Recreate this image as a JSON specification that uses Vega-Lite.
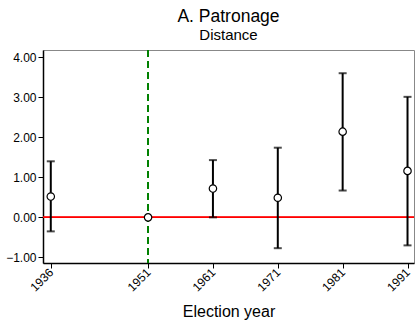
{
  "$schema": "https://vega.github.io/schema/vega-lite/v6.json",
  "autosize": "none",
  "padding": {"left": 43, "top": 50, "right": 1, "bottom": 57},
  "width": 371,
  "height": 213,
  "background": "white",
  "config": {
    "font": "Liberation Sans",
    "view": {"stroke": "#888888", "strokeWidth": 1},
    "axis": {"grid": false, "domainColor": "black", "tickColor": "black", "labelColor": "black", "titleColor": "black", "labelFontSize": 12, "titleFontSize": 16, "titleFontWeight": "normal", "domainWidth": 1.5, "tickSize": 5, "labelPadding": 2}
  },
  "title": {"text": "A. Patronage", "subtitle": "Distance", "fontSize": 17.5, "fontWeight": "normal", "subtitleFontSize": 15, "subtitleColor": "black", "subtitleFont": "Liberation Sans", "color": "black", "offset": 6, "subtitlePadding": 3, "anchor": "middle"},
  "data": {"values": [
    {"year": 1936, "est": 0.52, "lo": -0.35, "hi": 1.40},
    {"year": 1951, "est": 0.0, "lo": null, "hi": null},
    {"year": 1961, "est": 0.72, "lo": 0.0, "hi": 1.43},
    {"year": 1971, "est": 0.49, "lo": -0.77, "hi": 1.74},
    {"year": 1981, "est": 2.14, "lo": 0.67, "hi": 3.60},
    {"year": 1991, "est": 1.16, "lo": -0.70, "hi": 3.01}
  ]},
  "encoding": {
    "x": {"field": "year", "type": "quantitative", "scale": {"domain": [1934.8, 1992], "nice": false, "zero": false},
      "axis": {"values": [1936, 1951, 1961, 1971, 1981, 1991], "format": "d", "labelAngle": 315, "labelAlign": "right", "labelBaseline": "middle", "title": "Election year", "titlePadding": 10}}
  },
  "layer": [
    {"mark": {"type": "rule", "color": "red", "strokeWidth": 1.2}, "encoding": {"y": {"datum": 0, "type": "quantitative"}, "x": null}},
    {"mark": {"type": "rule", "color": "green", "strokeDash": [7, 4], "strokeWidth": 1.2}, "encoding": {"x": {"datum": 1951, "type": "quantitative"}}},
    {"mark": {"type": "rule", "color": "black", "strokeWidth": 2}, "encoding": {"y": {"field": "lo", "type": "quantitative"}, "y2": {"field": "hi"}}},
    {"mark": {"type": "tick", "color": "black", "orient": "horizontal", "size": 8, "thickness": 2}, "encoding": {"y": {"field": "lo", "type": "quantitative"}}},
    {"mark": {"type": "tick", "color": "black", "orient": "horizontal", "size": 8, "thickness": 2}, "encoding": {"y": {"field": "hi", "type": "quantitative"}}},
    {"mark": {"type": "point", "shape": "circle", "filled": true, "fill": "white", "stroke": "black", "strokeWidth": 1.2, "size": 55, "opacity": 1},
      "encoding": {"y": {"field": "est", "type": "quantitative", "scale": {"domain": [-1.14, 4.18], "nice": false, "zero": false},
        "axis": {"values": [-1, 0, 1, 2, 3, 4], "format": ".2f", "title": null}}}}
  ]
}
